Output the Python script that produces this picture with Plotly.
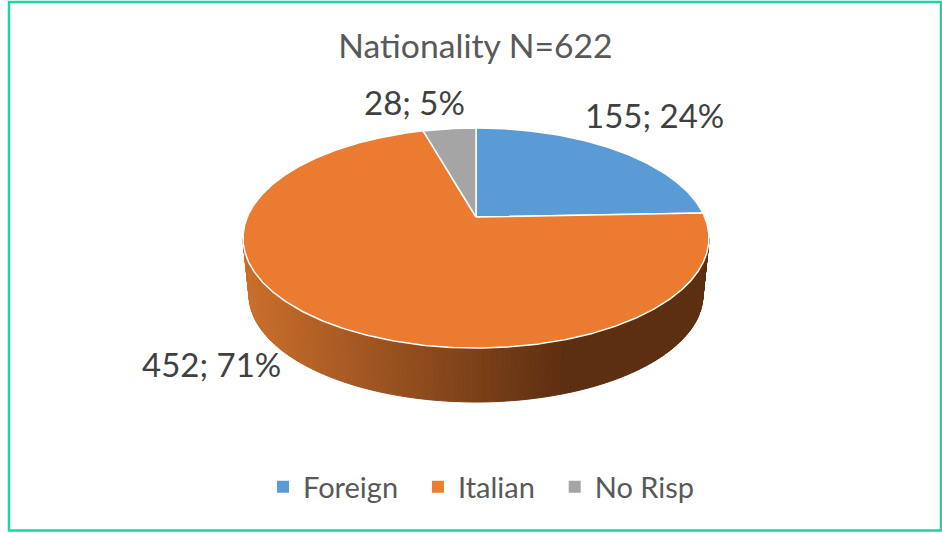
import numpy as np
import plotly.graph_objects as go

# ---- data ----
categories = ["Foreign", "Italian", "No Risp"]
counts = [155, 452, 28]
percent_labels = [24, 71, 5]
title_text = "Nationality N=622"

# ---- style ----
slice_colors = ["#5B9BD5", "#EA7B30", "#A5A5A5"]
legend_colors = ["#5B9BD5", "#ED7D31", "#A5A5A5"]
W, H = 942, 533
FONT = "Lato, Carlito, Calibri, sans-serif"
LEGEND_PAD = "\u00a0\u00a0"

# projected tilted disc (perspective), in pixel units of the hidden axes
CX, APEX_Y, A, B, K = 476.0, 217.0, 228.7, 106.0, 0.191
DEPTH_SCALE, BASE_Y = 0.974, 274.4


def top(a):
    X, Y = np.sin(a), -np.cos(a)
    w = 1 - K * Y
    return CX + A * X / w, APEX_Y + B * Y / w


def base(a):
    X, Y = np.sin(a), -np.cos(a)
    w = 1 - K * Y
    return CX + DEPTH_SCALE * A * X / w, BASE_Y + DEPTH_SCALE * B * Y / w


def mix(t):
    c0, c1 = np.array([0xCB, 0x6F, 0x2C]), np.array([0x5D, 0x2F, 0x11])
    c = c0 + (c1 - c0) * min(max(t, 0), 1)
    return "rgb(%d,%d,%d)" % tuple(c)


fig = go.Figure()

# side wall of the disc, front half only
a_right = np.pi / 2 + np.arcsin(K)
a_left = 2 * np.pi - a_right
edges = np.linspace(a_right, a_left, 161)
for a0, a1 in zip(edges[:-1], edges[1:]):
    tx, ty = top(np.array([a0, a1]))
    bx, by = base(np.array([a1, a0]))
    t = (tx.mean() - 243) / (565 - 243)
    col = mix(t)
    fig.add_trace(go.Scatter(
        x=list(tx) + list(bx) + [tx[0]], y=list(ty) + list(by) + [ty[0]],
        mode="lines", fill="toself", fillcolor=col, line=dict(color=col, width=1),
        hoverinfo="skip", showlegend=False))

# top face, slices from the values
fracs = np.array(counts) / sum(counts)
ends = np.cumsum(fracs) * 2 * np.pi
starts = ends - fracs * 2 * np.pi
for name, s, e, col in zip(categories, starts, ends, slice_colors):
    aa = np.linspace(s, e, max(int((e - s) * 120), 8))
    x, y = top(aa)
    fig.add_trace(go.Scatter(
        x=[CX] + list(x) + [CX], y=[APEX_Y] + list(y) + [APEX_Y],
        mode="lines", fill="toself", fillcolor=col, line=dict(color="white", width=1.5),
        name=name, hoverinfo="name", showlegend=False))

# legend entries
for name, col in zip(categories, legend_colors):
    fig.add_trace(go.Scatter(
        x=[None], y=[None], mode="markers", name=name + LEGEND_PAD,
        marker=dict(symbol="square", size=12, color=col)))

# data labels
label_pos = [(654, 115), (211, 364), (414, 102)]
annotations = [
    dict(x=px, y=py, xref="x", yref="y", showarrow=False,
         text=f"{c}; {p}%", font=dict(family=FONT, size=33, color="#404040"))
    for c, p, (px, py) in zip(counts, percent_labels, label_pos)
]

fig.update_layout(
    width=W, height=H, margin=dict(l=0, r=0, t=0, b=0),
    paper_bgcolor="white", plot_bgcolor="white",
    xaxis=dict(range=[0, W], visible=False, fixedrange=True),
    yaxis=dict(range=[H, 0], visible=False, fixedrange=True),
    title=dict(text=title_text, x=475.5 / W, xanchor="center", y=1 - 46 / H, yanchor="middle",
               font=dict(family=FONT, size=33.7, color="#595959")),
    annotations=annotations,
    legend=dict(orientation="h", x=263 / W, xanchor="left", y=1 - 487 / H, yanchor="middle",
                font=dict(family=FONT, size=29, color="#595959"),
                itemclick=False, itemdoubleclick=False, bgcolor="rgba(0,0,0,0)"),
    shapes=[dict(type="rect", xref="x", yref="y", x0=9, x1=941, y0=2, y1=530.5,
                 line=dict(color="#17D7A5", width=2.5), fillcolor="rgba(0,0,0,0)", layer="below")],
)

fig.write_html("out.html", config={"displayModeBar": False},
               post_script="document.body.style.margin='0';document.body.style.overflow='hidden';")
